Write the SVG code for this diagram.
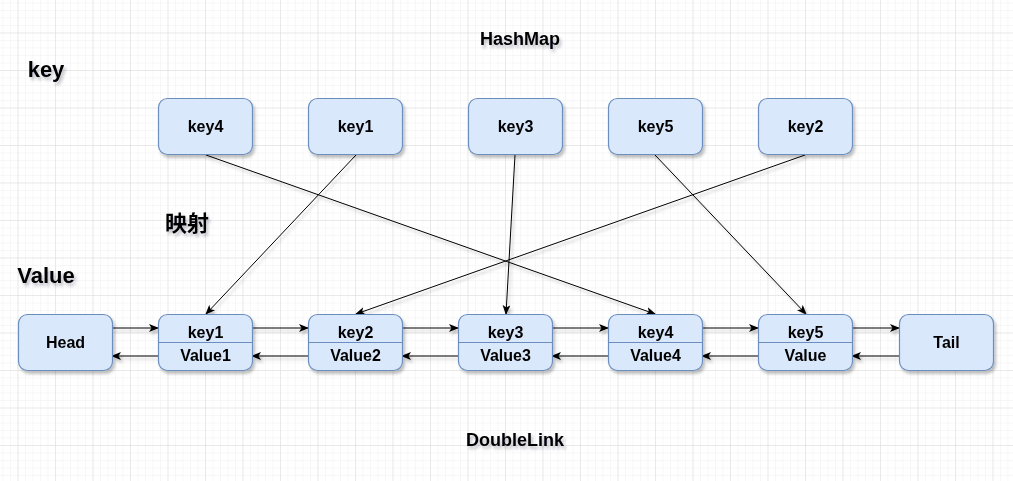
<svg xmlns="http://www.w3.org/2000/svg" width="1013" height="481" viewBox="0 0 1013 481">
<style>
.node rect{fill:#dae8fc;stroke:#6c8ebf;stroke-width:1.2}
.div{stroke:#6c8ebf;stroke-width:1.2}
.t{font-family:"Liberation Sans",Arial,sans-serif;font-weight:bold;font-size:16px;fill:#000;text-anchor:middle}
.lbl{font-family:"Liberation Sans",Arial,"Noto Sans CJK SC",sans-serif;font-weight:bold;fill:#000;text-anchor:middle}
.conn line{stroke:#000;stroke-width:1;fill:none}
</style>
<defs>
<pattern id="minor" x="17.5" y="32.5" width="7.5" height="7.5" patternUnits="userSpaceOnUse">
<path d="M0,0 H7.5 M0,0 V7.5" stroke="#f0f0f0" stroke-width="1" fill="none"/>
</pattern>
<pattern id="major" x="17.5" y="32.5" width="37.5" height="37.5" patternUnits="userSpaceOnUse">
<path d="M0,0 H37.5 M0,0 V37.5" stroke="#dcdcdc" stroke-width="1" fill="none"/>
</pattern>
<filter id="sh" x="-20%" y="-20%" width="140%" height="150%">
<feDropShadow dx="2" dy="3" stdDeviation="1.5" flood-color="#000" flood-opacity="0.25"/>
</filter>
<filter id="tsh" x="-20%" y="-30%" width="140%" height="170%">
<feDropShadow dx="2" dy="3" stdDeviation="1.5" flood-color="#334" flood-opacity="0.3"/>
</filter>
<marker id="arr" markerWidth="10" markerHeight="8" refX="9" refY="4" orient="auto" markerUnits="userSpaceOnUse">
<path d="M0,0 L10,4 L0,8 L2.5,4 Z" fill="#000"/>
</marker>
</defs>
<rect width="1013" height="481" fill="#fff"/>
<rect width="1013" height="481" fill="url(#minor)"/>
<rect width="1013" height="481" fill="url(#major)"/>

<g id="labels" filter="url(#tsh)">
<text class="lbl" x="520" y="45" font-size="18">HashMap</text>
<text class="lbl" x="46" y="77" font-size="22">key</text>
<text class="lbl" x="187" y="231" font-size="22">映射</text>
<text class="lbl" x="46" y="283" font-size="22">Value</text>
<text class="lbl" x="515" y="446" font-size="18">DoubleLink</text>
</g>

<g id="connectors" class="conn" filter="url(#sh)">
<line x1="206" y1="155" x2="655" y2="314" marker-end="url(#arr)"/>
<line x1="356" y1="155" x2="206" y2="314" marker-end="url(#arr)"/>
<line x1="515" y1="155" x2="506" y2="314" marker-end="url(#arr)"/>
<line x1="655" y1="155" x2="806" y2="314" marker-end="url(#arr)"/>
<line x1="805" y1="155" x2="356" y2="314" marker-end="url(#arr)"/>
<line x1="112" y1="328" x2="158" y2="328" marker-end="url(#arr)"/>
<line x1="252" y1="328" x2="308" y2="328" marker-end="url(#arr)"/>
<line x1="402" y1="328" x2="458" y2="328" marker-end="url(#arr)"/>
<line x1="552" y1="328" x2="608" y2="328" marker-end="url(#arr)"/>
<line x1="702" y1="328" x2="758" y2="328" marker-end="url(#arr)"/>
<line x1="852" y1="328" x2="899" y2="328" marker-end="url(#arr)"/>
<line x1="158" y1="356" x2="112" y2="356" marker-end="url(#arr)"/>
<line x1="308" y1="356" x2="252" y2="356" marker-end="url(#arr)"/>
<line x1="458" y1="356" x2="402" y2="356" marker-end="url(#arr)"/>
<line x1="608" y1="356" x2="552" y2="356" marker-end="url(#arr)"/>
<line x1="758" y1="356" x2="702" y2="356" marker-end="url(#arr)"/>
<line x1="899" y1="356" x2="852" y2="356" marker-end="url(#arr)"/>
</g>

<g id="key4" class="node" filter="url(#sh)"><rect x="158.5" y="98.5" width="94" height="56" rx="9"/><text class="t" x="205.5" y="132">key4</text></g>
<g id="key1" class="node" filter="url(#sh)"><rect x="308.5" y="98.5" width="94" height="56" rx="9"/><text class="t" x="355.5" y="132">key1</text></g>
<g id="key3" class="node" filter="url(#sh)"><rect x="468.5" y="98.5" width="94" height="56" rx="9"/><text class="t" x="515.5" y="132">key3</text></g>
<g id="key5" class="node" filter="url(#sh)"><rect x="608.5" y="98.5" width="94" height="56" rx="9"/><text class="t" x="655.5" y="132">key5</text></g>
<g id="key2" class="node" filter="url(#sh)"><rect x="758.5" y="98.5" width="94" height="56" rx="9"/><text class="t" x="805.5" y="132">key2</text></g>

<g id="head" class="node" filter="url(#sh)"><rect x="18.5" y="314.5" width="94" height="56" rx="9"/><text class="t" x="65.5" y="348">Head</text></g>
<g id="node1" class="node" filter="url(#sh)"><rect x="158.5" y="314.5" width="94" height="56" rx="9"/><line class="div" x1="158.5" y1="342.5" x2="252.5" y2="342.5"/><text class="t" x="205.5" y="338">key1</text><text class="t" x="205.5" y="361">Value1</text></g>
<g id="node2" class="node" filter="url(#sh)"><rect x="308.5" y="314.5" width="94" height="56" rx="9"/><line class="div" x1="308.5" y1="342.5" x2="402.5" y2="342.5"/><text class="t" x="355.5" y="338">key2</text><text class="t" x="355.5" y="361">Value2</text></g>
<g id="node3" class="node" filter="url(#sh)"><rect x="458.5" y="314.5" width="94" height="56" rx="9"/><line class="div" x1="458.5" y1="342.5" x2="552.5" y2="342.5"/><text class="t" x="505.5" y="338">key3</text><text class="t" x="505.5" y="361">Value3</text></g>
<g id="node4" class="node" filter="url(#sh)"><rect x="608.5" y="314.5" width="94" height="56" rx="9"/><line class="div" x1="608.5" y1="342.5" x2="702.5" y2="342.5"/><text class="t" x="655.5" y="338">key4</text><text class="t" x="655.5" y="361">Value4</text></g>
<g id="node5" class="node" filter="url(#sh)"><rect x="758.5" y="314.5" width="94" height="56" rx="9"/><line class="div" x1="758.5" y1="342.5" x2="852.5" y2="342.5"/><text class="t" x="805.5" y="338">key5</text><text class="t" x="805.5" y="361">Value</text></g>
<g id="tail" class="node" filter="url(#sh)"><rect x="899.5" y="314.5" width="94" height="56" rx="9"/><text class="t" x="946.5" y="348">Tail</text></g>
</svg>
